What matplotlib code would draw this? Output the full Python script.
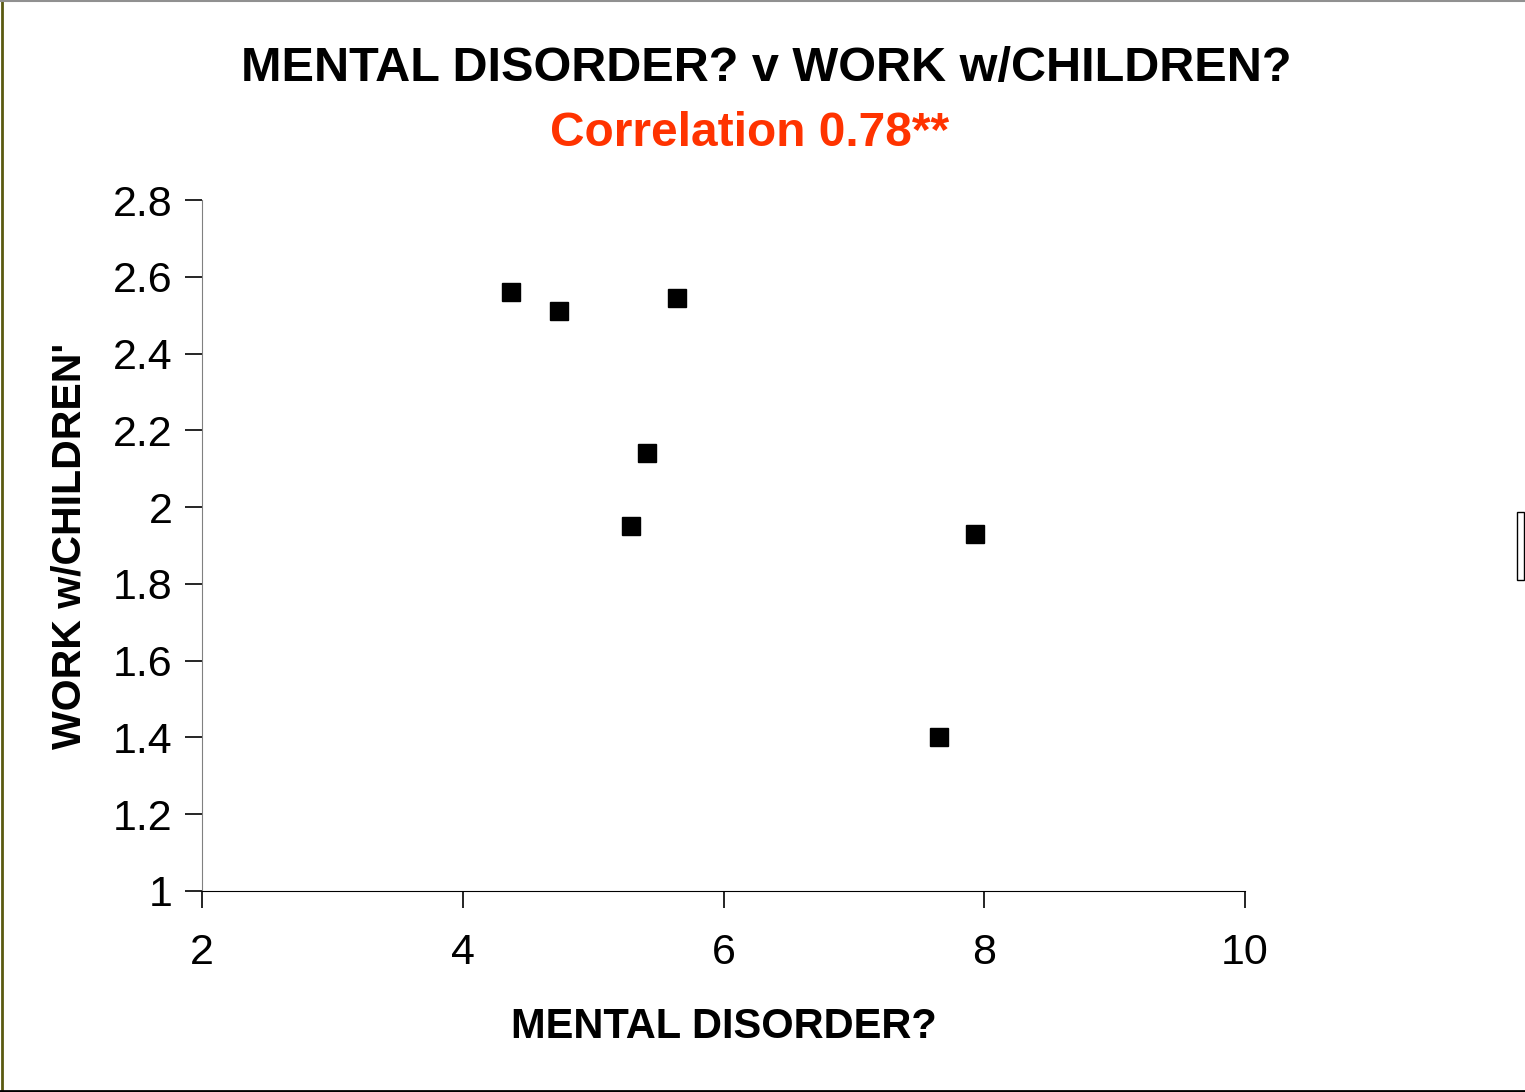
import matplotlib.pyplot as plt
from matplotlib.patches import Rectangle
from matplotlib.lines import Line2D

# leitura aproximada dos pontos no grafico
mental = [4.37, 4.74, 5.64, 5.41, 5.29, 7.93, 7.65]
work = [2.56, 2.51, 2.545, 2.14, 1.95, 1.93, 1.40]

xticks = [2, 4, 6, 8, 10]
yticks = [1, 1.2, 1.4, 1.6, 1.8, 2, 2.2, 2.4, 2.6, 2.8]
ylabels = ['1', '1.2', '1.4', '1.6', '1.8', '2', '2.2', '2.4', '2.6', '2.8']

plt.rcParams['font.family'] = ['Liberation Sans', 'DejaVu Sans']

fig = plt.figure(figsize=(15.25, 10.92), dpi=100)
ax = fig.add_axes([202/1525, 1-891/1092, (1245-202)/1525, (891-200)/1092])

ax.plot(mental, work, 's', color='black', markersize=12.5, linestyle='none')

ax.set_xlim(2, 10)
ax.set_ylim(1, 2.8)
ax.set_xticks(xticks)
ax.set_xticklabels([str(t) for t in xticks])
ax.set_yticks(yticks)
ax.set_yticklabels(ylabels)

ax.spines['top'].set_visible(False)
ax.spines['right'].set_visible(False)
ax.spines['left'].set_color('#808080')
ax.spines['bottom'].set_color('black')
ax.tick_params(axis='both', direction='out', length=12, width=1.2, labelsize=31, color='black')
ax.tick_params(axis='x', pad=18)
ax.tick_params(axis='y', pad=9)

ax.set_xlabel('MENTAL DISORDER?', fontsize=30, fontweight='bold', labelpad=25)
ax.set_ylabel("WORK w/CHILDREN'", fontsize=29.5, fontweight='bold', labelpad=18)

fig.text(766/1525, 1-68/1092, 'MENTAL DISORDER? v WORK w/CHILDREN?', ha='center', va='center',
         fontsize=35, fontweight='bold')
fig.text(750/1525, 1-134/1092, 'Correlation 0.78**', ha='center', va='center',
         fontsize=34.5, fontweight='bold', color='#ff3300')

# borda da figura
fig.add_artist(Line2D([0.001, 0.001], [0, 1], transform=fig.transFigure, color='#5a5a10', linewidth=2))
fig.add_artist(Line2D([0, 1], [0.999, 0.999], transform=fig.transFigure, color='#909090', linewidth=1.5))
fig.add_artist(Line2D([0, 1], [0.001, 0.001], transform=fig.transFigure, color='black', linewidth=2))

# retangulo pequeno na borda direita
fig.add_artist(Rectangle((1517/1525, 1-580/1092), 7/1525, 68/1092, transform=fig.transFigure,
                         facecolor='white', edgecolor='black', linewidth=1))

fig.savefig('out.png', dpi=100)
